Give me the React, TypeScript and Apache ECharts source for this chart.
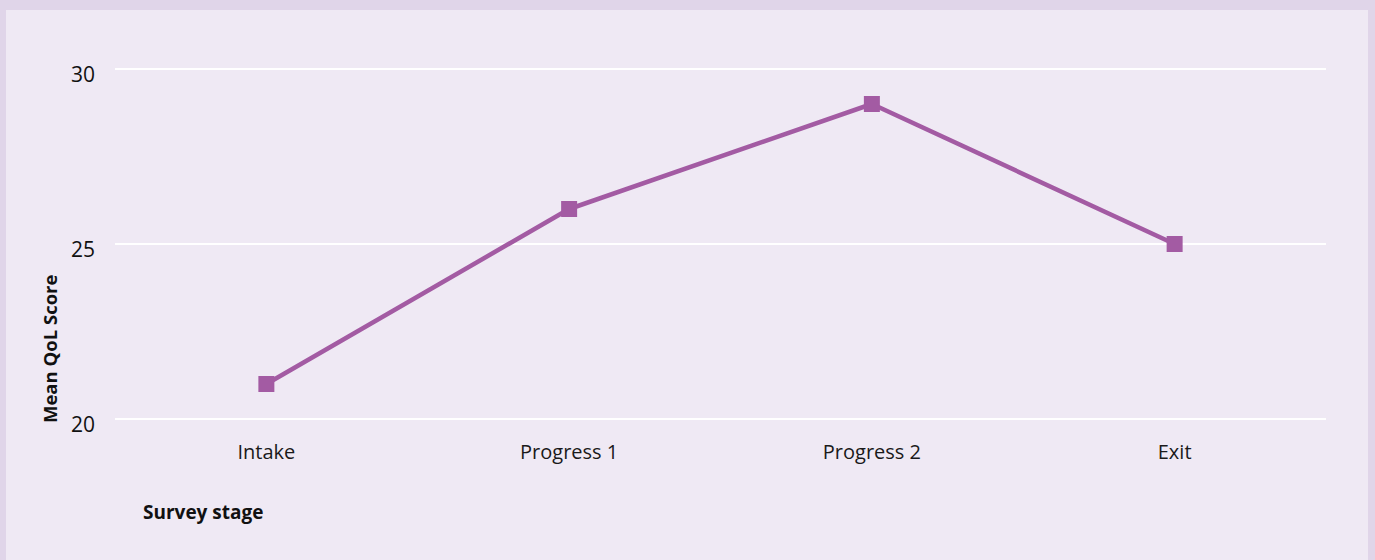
import React, { useEffect, useRef } from "react";
import * as echarts from "echarts";

const categories = ["Intake", "Progress 1", "Progress 2", "Exit"];
const meanScores = [21, 26, 29, 25];
const yTicks = { min: 20, max: 30, interval: 5 };

export default function App() {
  const ref = useRef<HTMLDivElement>(null);
  useEffect(() => {
    if (!ref.current) return;
    const chart = echarts.init(ref.current, undefined, { renderer: "svg" });
    const font = "'Open Sans', 'Noto Sans', sans-serif";
    chart.setOption({
      animation: false,
      backgroundColor: "#e0d5e9",
      textStyle: { fontFamily: font },
      graphic: [
        {
          type: "rect",
          shape: { x: 6, y: 10, width: 1362, height: 560 },
          style: { fill: "#efe9f4" },
          z: -10,
          silent: true,
        },
        {
          type: "text",
          x: 49,
          y: 423,
          rotation: Math.PI / 2,
          style: {
            text: "Mean QoL Score",
            fontFamily: font,
            fontSize: 18.5,
            fontWeight: "bold",
            fill: "#111",
            align: "left",
            verticalAlign: "middle",
            letterSpacing: -0.6,
          },
        },
        {
          type: "text",
          x: 143,
          y: 512,
          style: {
            text: "Survey stage",
            fontFamily: font,
            fontSize: 19,
            fontWeight: "bold",
            fill: "#111",
            align: "left",
            verticalAlign: "middle",
            letterSpacing: -0.6,
          },
        },
      ],
      grid: { left: 115, right: 49, top: 69, bottom: 141, containLabel: false },
      xAxis: {
        type: "category",
        data: categories,
        boundaryGap: true,
        axisLine: { show: false },
        axisTick: { show: false },
        axisLabel: { color: "#1a1a1a", fontSize: 20, fontFamily: font, margin: 22, letterSpacing: -0.5 },
        splitLine: { show: false },
      },
      yAxis: {
        type: "value",
        min: yTicks.min,
        max: yTicks.max,
        interval: yTicks.interval,
        axisLine: { show: false },
        axisTick: { show: false },
        axisLabel: {
          color: "#111",
          fontSize: 21,
          fontFamily: font,
          margin: 20,
          verticalAlign: "top",
          lineHeight: 9,
        },
        splitLine: { lineStyle: { color: "#ffffff", width: 2 } },
      },
      series: [
        {
          type: "line",
          data: meanScores,
          symbol: "rect",
          symbolSize: 16,
          lineStyle: { color: "#a35ba3", width: 4.5 },
          itemStyle: { color: "#a35ba3" },
        },
      ],
    });
    return () => chart.dispose();
  }, []);
  return (
    <div
      ref={ref}
      style={{ position: "fixed", left: 0, top: 0, width: 1375, height: 560 }}
    />
  );
}
